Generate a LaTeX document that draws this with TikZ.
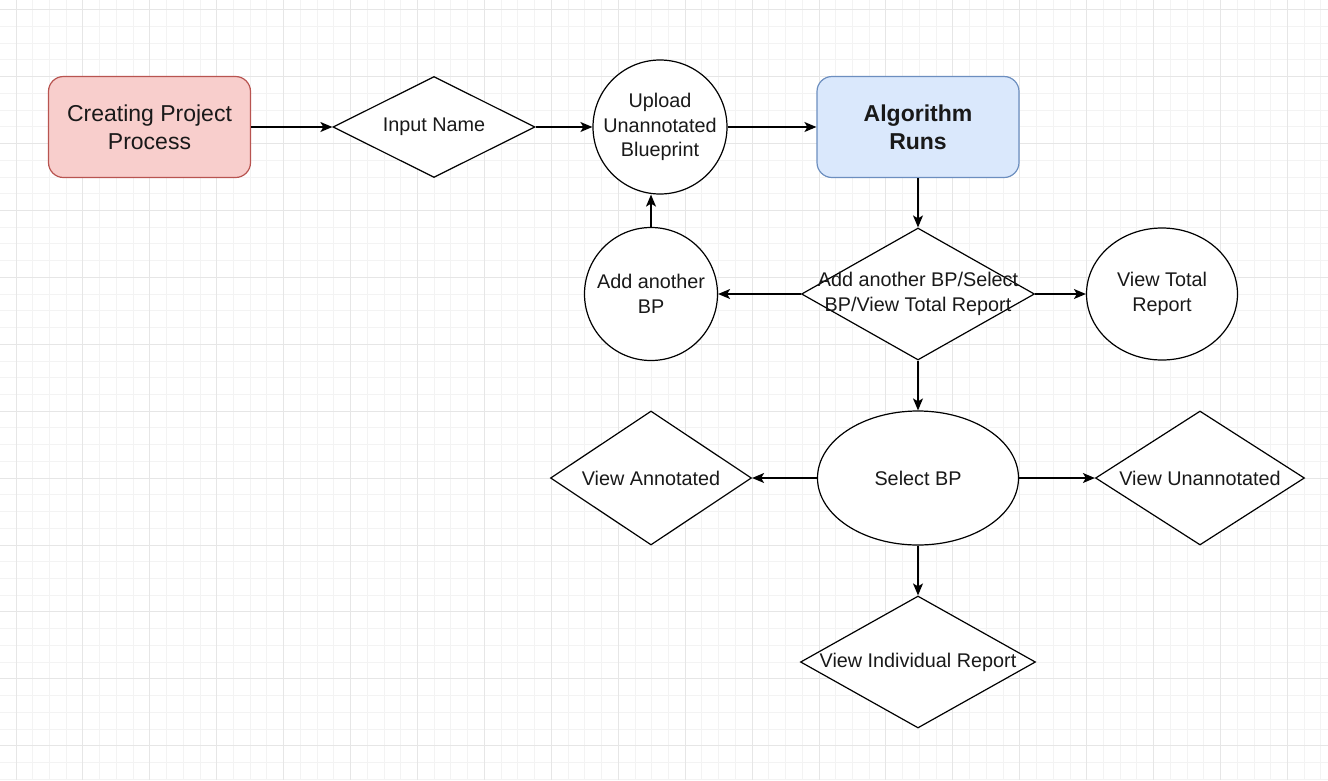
\documentclass[tikz,border=0pt]{standalone}
\usepackage{fontspec}
\setmainfont{Liberation Sans}
\usetikzlibrary{shapes.geometric,arrows.meta}
\definecolor{redfill}{HTML}{F8CECC}
\definecolor{redline}{HTML}{B85450}
\definecolor{bluefill}{HTML}{DAE8FC}
\definecolor{blueline}{HTML}{6C8EBF}
\definecolor{gridminor}{HTML}{F3F3F3}
\definecolor{gridmajor}{HTML}{E6E6E6}
\begin{document}
\begin{tikzpicture}[x=1pt,y=-1pt,
  gminor/.style={draw=gridminor, line width=1pt},
  gmajor/.style={draw=gridmajor, line width=1pt},
  box/.style={draw, line width=1.2pt, rounded corners=15pt, minimum width=202pt, minimum height=101pt, inner sep=0pt, align=center, font=\fontsize{23}{28}\selectfont, text=black!90},
  dia/.style={diamond, draw, fill=white, line width=1.2pt, inner sep=0pt},
  ell/.style={ellipse, draw, fill=white, line width=1.2pt, inner sep=0pt},
  lbl/.style={font=\fontsize{19.8}{24.5}\selectfont, align=center, text=black!90, inner sep=0pt},
  arr/.style={-{Stealth[length=12pt,width=10pt,inset=3pt]}, line width=1.4pt},
]
\useasboundingbox (0,0) rectangle (1328,780);
\fill[white] (0,0) rectangle (1328,780);
% grid
\foreach \i in {-1,...,80} \draw[gminor] ({16+\i*16.73},0) -- ({16+\i*16.73},780);
\foreach \j in {-1,...,47} \draw[gminor] (0,{9.7+\j*16.73}) -- (1328,{9.7+\j*16.73});
\foreach \i in {0,...,20} \draw[gmajor] ({16+\i*66.92},0) -- ({16+\i*66.92},780);
\foreach \j in {0,...,12} \draw[gmajor] (0,{9.7+\j*66.92}) -- (1328,{9.7+\j*66.92});

% nodes
\node[box, fill=redfill, draw=redline] (cpp) at (149.5,127) {Creating Project\\Process};
\node[dia, minimum width=202pt, minimum height=101pt, label={[lbl]center:Input Name}] (inname) at (434,127) {};
\node[ell, minimum width=134pt, minimum height=134pt, label={[lbl]center:Upload\\Unannotated\\Blueprint}] (upload) at (660,127) {};
\node[box, fill=bluefill, draw=blueline, font=\fontsize{23}{28}\selectfont\bfseries] (algo) at (918,127) {Algorithm\\Runs};
\node[dia, minimum width=233pt, minimum height=132pt, label={[lbl]center:Add another BP/Select\\BP/View Total Report}] (choice) at (918,294) {};
\node[ell, minimum width=133pt, minimum height=133pt, label={[lbl]center:Add another\\BP}] (addbp) at (651,294) {};
\node[ell, minimum width=151pt, minimum height=132pt, label={[lbl]center:View Total\\Report}] (total) at (1162,294) {};
\node[ell, minimum width=201pt, minimum height=134pt, label={[lbl]center:Select BP}] (select) at (918,478) {};
\node[dia, minimum width=201pt, minimum height=134pt, label={[lbl]center:View Annotated}] (annot) at (651,478) {};
\node[dia, minimum width=209pt, minimum height=134pt, label={[lbl]center:View Unannotated}] (unannot) at (1200,478) {};
\node[dia, minimum width=235pt, minimum height=132pt, label={[lbl]center:View Individual Report}] (indiv) at (918,662) {};

% connectors
\draw[arr] (cpp) -- (inname);
\draw[arr] (inname) -- (upload);
\draw[arr] (upload) -- (algo);
\draw[arr] (algo) -- (choice);
\draw[arr] (choice) -- (addbp);
\draw[arr] (choice) -- (total);
\draw[arr] (addbp.north) -- (upload.south -| addbp.north);
\draw[arr] (choice) -- (select);
\draw[arr] (select) -- (annot);
\draw[arr] (select) -- (unannot);
\draw[arr] (select) -- (indiv);
\end{tikzpicture}
\end{document}
